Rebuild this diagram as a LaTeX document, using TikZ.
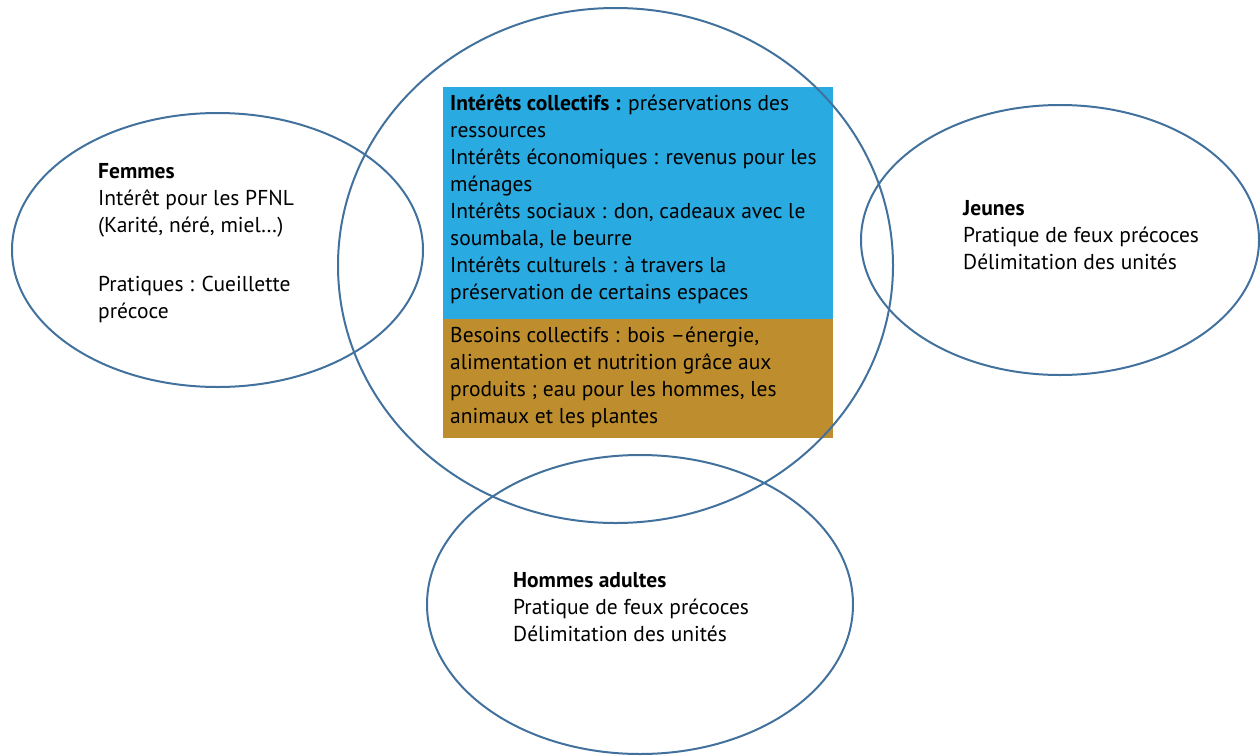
\documentclass[tikz,border=0pt]{standalone}
\usepackage{fontspec}
\setmainfont{PT Sans}
\usetikzlibrary{shapes.geometric}
\definecolor{ringblue}{HTML}{41719C}
\definecolor{boxblue}{HTML}{29ABE2}
\definecolor{boxgold}{HTML}{BE8E2E}
\tikzset{
  ring/.style={ellipse, draw=ringblue, line width=2pt, inner sep=0pt, outer sep=0pt},
  panel/.style={rectangle, inner sep=0pt, outer sep=0pt, anchor=north west},
  label/.style={anchor=north west, inner sep=0pt, align=left,
    font=\fontsize{21.5}{27}\selectfont, text=black},
}
\begin{document}
\begin{tikzpicture}[x=1pt,y=-1pt]
  \useasboundingbox (0,0) rectangle (1260,755);
  % coloured panels
  \node[panel, fill=boxblue, minimum width=390pt, minimum height=232pt] (interets) at (443,87) {};
  \node[panel, fill=boxgold, minimum width=390pt, minimum height=119pt] (besoins) at (443,319) {};
  % four actor groups
  \node[ring, minimum width=555pt, minimum height=515pt] (centre) at (615.5,265.5) {};
  \node[ring, minimum width=411pt, minimum height=274pt] (femmes) at (217.5,250) {};
  \node[ring, minimum width=398pt, minimum height=270pt] (jeunes) at (1060,240) {};
  \node[ring, minimum width=426pt, minimum height=299pt] (hommes) at (640,604.5) {};
  % texts
  \node[label] (tint) at (450,95) {\textbf{Intérêts collectifs :} préservations des\\
    ressources\\
    Intérêts économiques : revenus pour les\\
    ménages\\
    Intérêts sociaux : don, cadeaux avec le\\
    soumbala, le beurre\\
    Intérêts culturels : à travers la\\
    préservation de certains espaces};
  \node[label] (tbes) at (450,327) {Besoins collectifs : bois –énergie,\\
    alimentation et nutrition grâce aux\\
    produits ; eau pour les hommes, les\\
    animaux et les plantes};
  \node[label] (tfem) at (98,163) {\textbf{Femmes}\\
    Intérêt pour les PFNL\\
    (Karité, néré, miel…)\\[32pt]
    Pratiques : Cueillette\\
    précoce};
  \node[label] (tjeu) at (963,200) {\textbf{Jeunes}\\
    Pratique de feux précoces\\
    Délimitation des unités};
  \node[label] (thom) at (513,572) {\textbf{Hommes adultes}\\
    Pratique de feux précoces\\
    Délimitation des unités};
\end{tikzpicture}
\end{document}
